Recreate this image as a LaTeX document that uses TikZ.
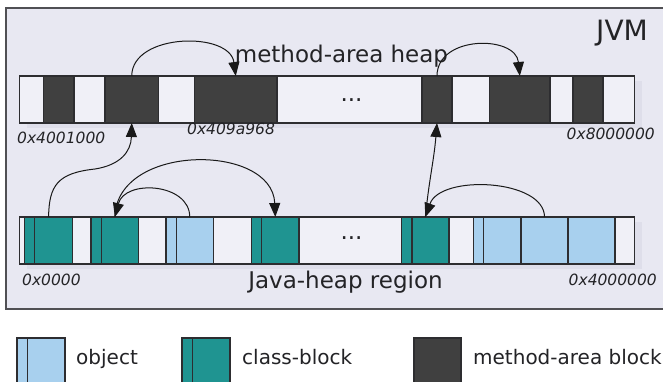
\documentclass[tikz,border=0pt]{standalone}
\usepackage{fontspec}
\setmainfont{DejaVu Sans}
\usetikzlibrary{arrows.meta}

\definecolor{framebg}{RGB}{232,232,242}
\definecolor{framec}{RGB}{80,80,84}
\definecolor{cellbg}{RGB}{240,240,247}
\definecolor{linec}{RGB}{45,45,48}
\definecolor{darkblk}{RGB}{64,64,64}
\definecolor{tealblk}{RGB}{31,148,145}
\definecolor{lblue}{RGB}{168,208,238}
\definecolor{shadowc}{RGB}{222,222,234}
\definecolor{textc}{RGB}{35,35,38}

% one memory cell: style, name, left x, right x, top y
\newcommand\memcell[5]{%
  \pgfmathsetmacro\cellw{#4-#3}%
  \node[#1, minimum width=\cellw pt, anchor=north west] (#2) at (#3,#5) {};}

\begin{document}
\begin{tikzpicture}[x=1pt,y=-1pt,
  cell/.style={draw=linec, line width=1.1pt, inner sep=0pt, outer sep=0pt, minimum height=47pt},
  bar/.style={cell, fill=cellbg},
  stripe/.style={path picture={\draw[linec, line width=1.1pt]
      ([xshift=10.3pt]path picture bounding box.north west) --
      ([xshift=10.3pt]path picture bounding box.south west);}},
  mblock/.style={cell, fill=darkblk},
  cblock/.style={cell, fill=tealblk, stripe},
  oblock/.style={cell, fill=lblue, stripe},
  ocell/.style={cell, fill=lblue},
  addr/.style={font=\fontsize{15.5}{18}\selectfont\itshape, text=textc, inner sep=0pt},
  title/.style={font=\fontsize{23}{27}\selectfont, text=textc, inner sep=0pt},
  dots/.style={font=\fontsize{23}{27}\selectfont, text=textc, inner sep=0pt},
  legtext/.style={font=\fontsize{20}{24}\selectfont, text=textc, inner sep=0pt},
  conn/.style={draw=black!90, line width=1pt, -{Triangle[length=14pt,width=11pt]}}
]
\useasboundingbox (0,0) rectangle (663,381);
\fill[white] (0,0) rectangle (663,381);

% JVM frame (open on the right)
\draw[framec, line width=1.4pt, fill=framebg] (6,8) rectangle (672,309);

% soft shadows under the two bars
\fill[shadowc] (27,81) rectangle (642,128);
\fill[shadowc] (27,222) rectangle (642,269);

% method-area heap bar
\node[bar, minimum width=615pt, anchor=north west] (mbar) at (19.5,76) {};
\memcell{mblock}{m1}{43.5}{74}{76}
\memcell{mblock}{m2}{105}{158.5}{76}
\memcell{mblock}{m3}{194.5}{277}{76}
\memcell{mblock}{m4}{422}{452}{76}
\memcell{mblock}{m5}{489.6}{550}{76}
\memcell{mblock}{m6}{573}{603}{76}
\node[dots] (mdots) at (351.5,100) {...};

% Java-heap bar
\node[bar, minimum width=615pt, anchor=north west] (jbar) at (19.5,217) {};
\memcell{cblock}{c1}{24.5}{72.7}{217}
\memcell{cblock}{c2}{91}{138.7}{217}
\memcell{oblock}{o1}{166}{213.5}{217}
\memcell{cblock}{c3}{251.6}{299}{217}
\memcell{cblock}{c4}{401.7}{449}{217}
\memcell{oblock}{o2}{473.5}{521}{217}
\memcell{ocell}{d1}{521}{568}{217}
\memcell{ocell}{d2}{568}{615}{217}
\node[dots] (jdots) at (351.5,238) {...};

% texts
\node[font=\fontsize{28}{32}\selectfont, text=textc, inner sep=0pt, anchor=base east] (jvm) at (648,40) {JVM};
\node[title, anchor=base] (mtitle) at (341.5,62) {method-area heap};
\node[title, anchor=base] (jtitle) at (345.5,288) {Java-heap region};

\node[addr, anchor=base west] (a1) at (17,143) {0x4001000};
\node[addr, anchor=base west] (a2) at (187,134) {0x409a968};
\node[addr, anchor=base east] (a3) at (655,139) {0x8000000};
\node[addr, anchor=base west] (a4) at (22,285) {0x0000};
\node[addr, anchor=base east] (a5) at (657,285) {0x4000000};

% references inside the method-area heap
\draw[conn] (m2.north) .. controls +(0,-43) and +(-6,-45) .. (m3.north);
\draw[conn] (m4.north) .. controls +(0,-41) and +(-4,-41) .. (m5.north);

% references from class blocks into the method area
\draw[conn] (c1.north) .. controls (49,185) and (58,173) .. (95,169)
  .. controls (120,165) and (131,152) .. (m2.south);
\draw[conn] (c4.north) .. controls (429,180) and (434,160) .. (m4.south);

% references inside the Java heap
\draw[conn] (c2.north) .. controls +(2,-74) and +(-3,-74) .. (c3.north);
\draw[conn] (o1.north) .. controls +(0,-34) and +(10,-38) .. (c2.north);
\draw[conn] (d1.north) .. controls +(0,-38) and +(15,-43) .. (c4.north);

% legend
\node[oblock, minimum width=48pt, minimum height=48pt, anchor=north west] (lg1) at (17,338) {};
\node[legtext, anchor=base west] (lt1) at (76,364) {object};
\node[cblock, minimum width=48pt, minimum height=48pt, anchor=north west] (lg2) at (182,338) {};
\node[legtext, anchor=base west] (lt2) at (242,364) {class-block};
\node[mblock, minimum width=47pt, minimum height=48pt, anchor=north west] (lg3) at (414,338) {};
\node[legtext, anchor=base west] (lt3) at (473,364) {method-area block};
\end{tikzpicture}
\end{document}
